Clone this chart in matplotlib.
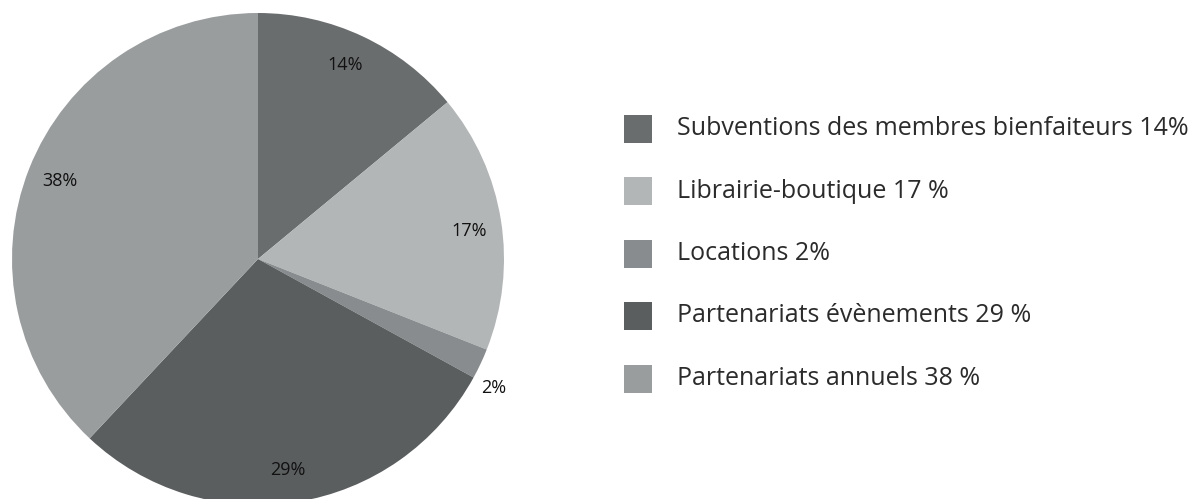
import matplotlib.pyplot as plt
import matplotlib.patches as mpatches
import numpy as np

# slice data (clockwise from 12 o'clock)
values = [14, 17, 2, 29, 38]
pct_labels = ['14%', '17%', '2%', '29%', '38%']
legend_labels = ['Subventions des membres bienfaiteurs 14%',
                 'Librairie-boutique 17 %',
                 'Locations 2%',
                 'Partenariats évènements 29 %',
                 'Partenariats annuels 38 %']
colors = ['#6a6d6e', '#b3b6b7', '#898c8e', '#5b5e5f', '#9a9d9e']
label_dist = [0.865, 0.866, 1.09, 0.867, 0.866]
label_shift = [1.0, -1.5, -3.5, -1.0, 0.0]  # degrees, small nudges

W, H = 1195, 499
fig = plt.figure(figsize=(W / 100, H / 100), dpi=100)

# pie box in pixels: centre (258, 259), radius 246
cx, cy, r = 258, 259, 246
ax = fig.add_axes([(cx - r) / W, (H - cy - r) / H, 2 * r / W, 2 * r / H])
wedges, _ = ax.pie(values, colors=colors, startangle=90, counterclock=False,
                   radius=1, wedgeprops=dict(linewidth=0))
ax.set_xlim(-1, 1)
ax.set_ylim(-1, 1)
ax.set_aspect('equal')
ax.axis('off')

for w, lab, d, s in zip(wedges, pct_labels, label_dist, label_shift):
    ang = np.deg2rad((w.theta1 + w.theta2) / 2 + s)
    ax.text(d * np.cos(ang), d * np.sin(ang), lab, ha='center', va='center',
            fontsize=13, family='Open Sans', color='#111111')

#legend drawn by hand to get the spacing of the original
sq = 28
x0, y0, step = 624, 128.5, 62.5
for i, (lab, col) in enumerate(zip(legend_labels, colors)):
    yc = y0 + i * step
    fig.patches.append(mpatches.Rectangle((x0 / W, (H - yc - sq / 2) / H), sq / W, sq / H,
                                          transform=fig.transFigure, color=col, lw=0))
    fig.text(677 / W, (H - yc - 6.5) / H, lab, ha='left', va='baseline',
             fontsize=18, family='Open Sans', color='#2b2b2b')

fig.savefig('out.png', dpi=100)
